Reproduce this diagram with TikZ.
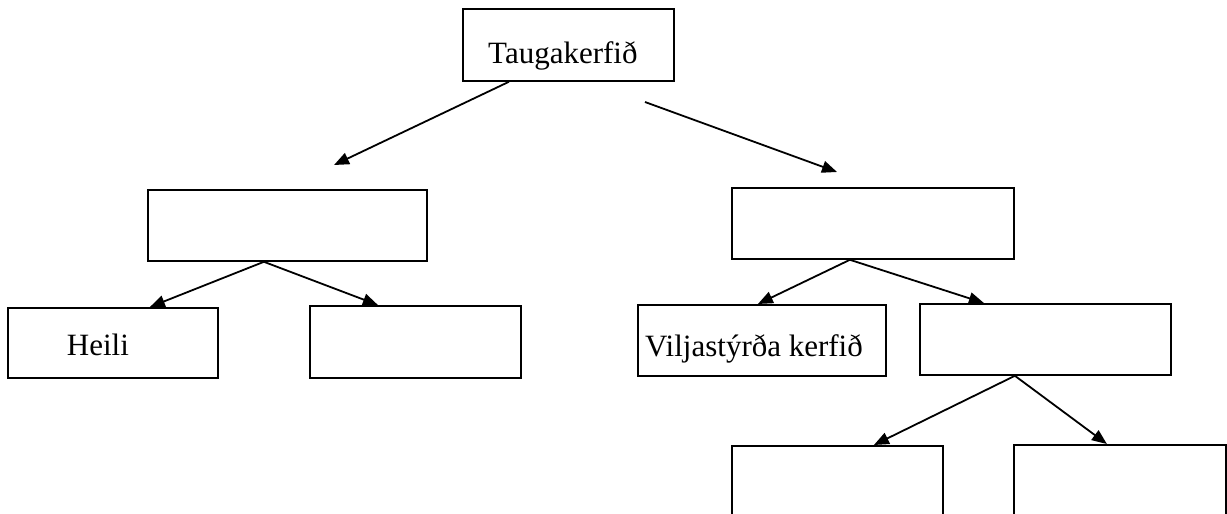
\documentclass[tikz,border=0pt]{standalone}
\usepackage{fontspec}
\setmainfont{Liberation Serif}
\usetikzlibrary{arrows.meta}
\begin{document}
\begin{tikzpicture}[x=1pt,y=-1pt,
  box/.style={draw, line width=1.8pt, rectangle, inner sep=0pt, anchor=north west},
  lbl/.style={anchor=base west, inner sep=0pt, font=\fontsize{31}{37}\selectfont},
  arr/.style={line width=1.8pt, -{Triangle[length=15pt,width=12pt]}}]
\useasboundingbox (0,0) rectangle (1227,514);
\clip (0,0) rectangle (1227,514);
% boxes
\node[box, minimum width=211pt, minimum height=72pt] (T) at (462,8) {};
\node[box, minimum width=279pt, minimum height=71pt] (L) at (147,189) {};
\node[box, minimum width=282pt, minimum height=71pt] (R) at (731,187) {};
\node[box, minimum width=210pt, minimum height=70pt] (H) at (7,307) {};
\node[box, minimum width=211pt, minimum height=72pt] (LE) at (309,305) {};
\node[box, minimum width=248pt, minimum height=71pt] (V) at (637,304) {};
\node[box, minimum width=251pt, minimum height=71pt] (RR) at (919,303) {};
\node[box, minimum width=211pt, minimum height=90pt] (B1) at (731,445) {};
\node[box, minimum width=212pt, minimum height=90pt] (B2) at (1013,444) {};
% labels
\node[lbl] (Tt) at (488,63.3) {Taugakerfið};
\node[lbl] (Ht) at (66.7,355) {Heili};
\node[lbl] (Vt) at (645,356.7) {Viljastýrða kerfið};
% free arrow ends
\coordinate (a1) at (334,165);
\coordinate (a2s) at (645,102);
\coordinate (a2e) at (837,172);
% connectors
\draw[arr] ([xshift=-59.5pt]T.south) -- (a1);
\draw[arr] (a2s) -- (a2e);
\draw[arr] ([xshift=-23.5pt]L.south) -- ([xshift=37pt]H.north);
\draw[arr] ([xshift=-23.5pt]L.south) -- ([xshift=-37.5pt]LE.north);
\draw[arr] ([xshift=-23pt]R.south) -- ([xshift=-4pt]V.north);
\draw[arr] ([xshift=-23pt]R.south) -- ([xshift=-61.5pt]RR.north);
\draw[arr] ([xshift=-30.5pt]RR.south) -- ([xshift=36.5pt]B1.north);
\draw[arr] ([xshift=-30.5pt]RR.south) -- ([xshift=-13pt]B2.north);
\end{tikzpicture}
\end{document}
